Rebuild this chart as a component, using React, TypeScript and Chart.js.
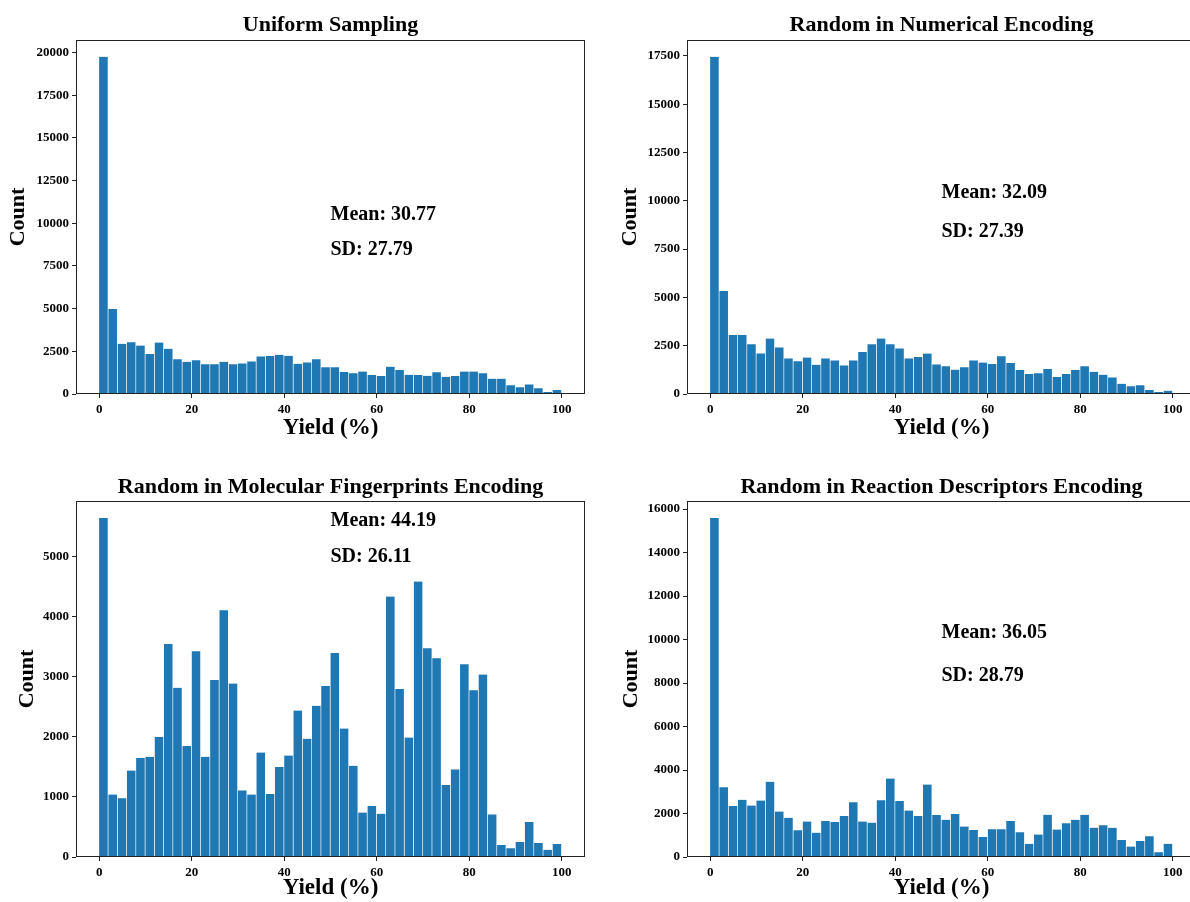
import React, { useEffect, useRef } from "react";
import { Chart, registerables } from "chart.js";

Chart.register(...registerables);

const FONT = "'Liberation Serif', 'Times New Roman', serif";
const BAR_COLOR = "#1f77b4";

// Bin centres of the yield histogram (bin width 2 %)
const yieldBins = [1, 3, 5, 7, 9, 11, 13, 15, 17, 19, 21, 23, 25, 27, 29, 31, 33, 35, 37, 39, 41, 43, 45, 47, 49, 51, 53, 55, 57, 59, 61, 63, 65, 67, 69, 71, 73, 75, 77, 79, 81, 83, 85, 87, 89, 91, 93, 95, 97, 99];

const uniformCounts = [19750, 4980, 2940, 3030, 2840, 2350, 3010, 2650, 2040, 1890, 1980, 1750, 1750, 1890, 1750, 1790, 1910, 2200, 2220, 2300, 2240, 1770, 1850, 2040, 1570, 1560, 1290, 1210, 1320, 1110, 1050, 1600, 1400, 1130, 1110, 1070, 1280, 1010, 1050, 1320, 1320, 1210, 900, 900, 510, 390, 560, 330, 120, 230];

const numericalCounts = [17450, 5330, 3050, 3060, 2580, 2100, 2870, 2410, 1840, 1690, 1890, 1510, 1840, 1740, 1480, 1740, 2170, 2580, 2870, 2580, 2360, 1840, 1910, 2090, 1530, 1440, 1260, 1390, 1740, 1630, 1550, 1960, 1600, 1240, 1030, 1080, 1290, 880, 1030, 1240, 1430, 1150, 1000, 860, 530, 400, 450, 210, 100, 170];

const fingerprintCounts = [5650, 1040, 980, 1440, 1650, 1670, 2000, 3550, 2820, 1850, 3430, 1670, 2950, 4110, 2890, 1110, 1040, 1740, 1050, 1500, 1690, 2440, 1970, 2520, 2850, 3400, 2140, 1520, 740, 850, 720, 4340, 2800, 1990, 4590, 3480, 3310, 1200, 1460, 3210, 2780, 3040, 710, 200, 145, 250, 585, 235, 120, 215];

const descriptorCounts = [15590, 3210, 2350, 2630, 2370, 2600, 3460, 2090, 1800, 1230, 1630, 1120, 1660, 1610, 1890, 2520, 1630, 1580, 2610, 3610, 2570, 2140, 1890, 3330, 1930, 1710, 1980, 1400, 1240, 920, 1280, 1280, 1660, 1140, 610, 1030, 1940, 1260, 1550, 1710, 1940, 1350, 1460, 1340, 780, 480, 740, 950, 215, 610];

const xTicks = [0, 20, 40, 60, 80, 100];
const uniformYTicks = [0, 2500, 5000, 7500, 10000, 12500, 15000, 17500, 20000];
const numericalYTicks = [0, 2500, 5000, 7500, 10000, 12500, 15000, 17500];
const fingerprintYTicks = [0, 1000, 2000, 3000, 4000, 5000];
const descriptorYTicks = [0, 2000, 4000, 6000, 8000, 10000, 12000, 14000, 16000];

const panelTitles = [
  "Uniform Sampling",
  "Random in Numerical Encoding",
  "Random in Molecular Fingerprints Encoding",
  "Random in Reaction Descriptors Encoding",
];
const meanLabels = ["Mean: 30.77", "Mean: 32.09", "Mean: 44.19", "Mean: 36.05"];
const sdLabels = ["SD: 27.79", "SD: 27.39", "SD: 26.11", "SD: 28.79"];

type Layout = {
  left: number; top: number; width: number; height: number;
  padTop: number; padRight: number; yAxisWidth: number; xAxisHeight: number;
  titleGap: number; xTitlePad: number; yTitlePad: number;
  meanFrac: number; sdFrac: number;
};

const layouts: Layout[] = [
  { left: 0, top: 0, width: 595, height: 450, padTop: 40, padRight: 10, yAxisWidth: 76, xAxisHeight: 56, titleGap: 15, xTitlePad: 8, yTitlePad: 4.8, meanFrac: 0.506, sdFrac: 0.407 },
  { left: 600, top: 0, width: 606, height: 450, padTop: 40, padRight: 10, yAxisWidth: 87, xAxisHeight: 56, titleGap: 15, xTitlePad: 8, yTitlePad: 16.8, meanFrac: 0.568, sdFrac: 0.458 },
  { left: 0, top: 460, width: 595, height: 442, padTop: 41, padRight: 10, yAxisWidth: 76, xAxisHeight: 45, titleGap: 14, xTitlePad: 0, yTitlePad: 13.8, meanFrac: 0.944, sdFrac: 0.843 },
  { left: 600, top: 460, width: 606, height: 442, padTop: 41, padRight: 10, yAxisWidth: 87, xAxisHeight: 45, titleGap: 14, xTitlePad: 0, yTitlePad: 17.8, meanFrac: 0.629, sdFrac: 0.508 },
];

const panelCounts = [uniformCounts, numericalCounts, fingerprintCounts, descriptorCounts];
const panelYTicks = [uniformYTicks, numericalYTicks, fingerprintYTicks, descriptorYTicks];

const framePlugin = {
  id: "frame",
  afterDraw(chart: any) {
    const { ctx, chartArea } = chart;
    ctx.save();
    ctx.strokeStyle = "#222";
    ctx.lineWidth = 1;
    const l = Math.round(chartArea.left) + 0.5;
    const t = Math.round(chartArea.top) + 0.5;
    const r = Math.round(chartArea.right) - 0.5;
    const b = Math.round(chartArea.bottom) - 0.5;
    ctx.strokeRect(l, t, r - l, b - t);
    ctx.restore();
  },
};

function textPlugin(idx: number, lay: Layout) {
  return {
    id: "texts" + idx,
    afterDraw(chart: any) {
      const { ctx, chartArea } = chart;
      const h = chartArea.bottom - chartArea.top;
      ctx.save();
      ctx.fillStyle = "#000";
      // panel title centred over the plot area
      ctx.font = `bold 22px ${FONT}`;
      ctx.textAlign = "center";
      ctx.textBaseline = "middle";
      ctx.fillText(panelTitles[idx], (chartArea.left + chartArea.right) / 2, chartArea.top - lay.titleGap);
      // statistics
      const x = chart.scales.x.getPixelForValue(50);
      ctx.font = `bold 20px ${FONT}`;
      ctx.textAlign = "left";
      ctx.fillText(meanLabels[idx], x, chartArea.bottom - lay.meanFrac * h);
      ctx.fillText(sdLabels[idx], x, chartArea.bottom - lay.sdFrac * h);
      ctx.restore();
    },
  };
}

function buildChart(canvas: HTMLCanvasElement, idx: number) {
  const lay = layouts[idx];
  const counts = panelCounts[idx];
  const yTicks = panelYTicks[idx];
  const yMax = Math.max(...counts) * 1.05;
  const tickFont = { family: FONT, size: 13, weight: "bold" as const };
  const labelFont = { family: FONT, size: 22, weight: "bold" as const };
  const xLabelFont = { family: FONT, size: 23, weight: "bold" as const };
  return new Chart(canvas, {
    type: "bar",
    data: {
      datasets: [
        {
          data: counts.map((c, i) => ({ x: yieldBins[i], y: c })),
          backgroundColor: BAR_COLOR,
          borderColor: "rgba(255,255,255,0.7)",
          borderWidth: { left: 0, right: 1, top: 0, bottom: 0 },
          borderSkipped: false,
          barPercentage: 1,
          categoryPercentage: 1,
        } as any,
      ],
    },
    options: {
      responsive: false,
      animation: false,
      events: [],
      layout: { padding: { left: 0, right: lay.padRight, top: lay.padTop, bottom: 0 } },
      plugins: {
        legend: { display: false },
        tooltip: { enabled: false },
        title: { display: false },
      },
      scales: {
        x: {
          type: "linear",
          min: -5,
          max: 105,
          offset: false,
          afterBuildTicks: (ax: any) => {
            ax.ticks = xTicks.map((v) => ({ value: v }));
          },
          afterFit: (ax: any) => {
            ax.height = lay.xAxisHeight;
          },
          grid: { display: true, drawOnChartArea: false, drawTicks: true, tickLength: 4, color: "#222", offset: false },
          border: { display: false },
          ticks: { color: "#000", font: tickFont, padding: 4, maxRotation: 0, autoSkip: false, callback: (v: any) => String(v) },
          title: { display: true, text: "Yield (%)", color: "#000", font: xLabelFont, padding: { top: 0, bottom: lay.xTitlePad } },
        },
        y: {
          type: "linear",
          min: 0,
          max: yMax,
          afterBuildTicks: (ax: any) => {
            ax.ticks = yTicks.map((v) => ({ value: v }));
          },
          afterFit: (ax: any) => {
            ax.width = lay.yAxisWidth;
          },
          grid: { display: true, drawOnChartArea: false, drawTicks: true, tickLength: 4, color: "#222" },
          border: { display: false },
          ticks: { color: "#000", font: tickFont, padding: 3, autoSkip: false, callback: (v: any) => String(v) },
          title: { display: true, text: "Count", color: "#000", font: labelFont, padding: { top: lay.yTitlePad, bottom: 0 } },
        },
      },
    } as any,
    plugins: [framePlugin, textPlugin(idx, lay)],
  });
}

function Panel({ idx }: { idx: number }) {
  const ref = useRef<HTMLCanvasElement | null>(null);
  const lay = layouts[idx];
  useEffect(() => {
    if (!ref.current) return;
    const chart = buildChart(ref.current, idx);
    return () => chart.destroy();
  }, [idx]);
  return (
    <canvas
      ref={ref}
      width={lay.width}
      height={lay.height}
      style={{ position: "absolute", left: lay.left, top: lay.top, width: lay.width, height: lay.height }}
    />
  );
}

export default function App() {
  return (
    <div style={{ position: "fixed", left: 0, top: 0, width: 1190, height: 902, overflow: "hidden", background: "#fff" }}>
      {layouts.map((_, i) => (
        <Panel key={i} idx={i} />
      ))}
    </div>
  );
}
